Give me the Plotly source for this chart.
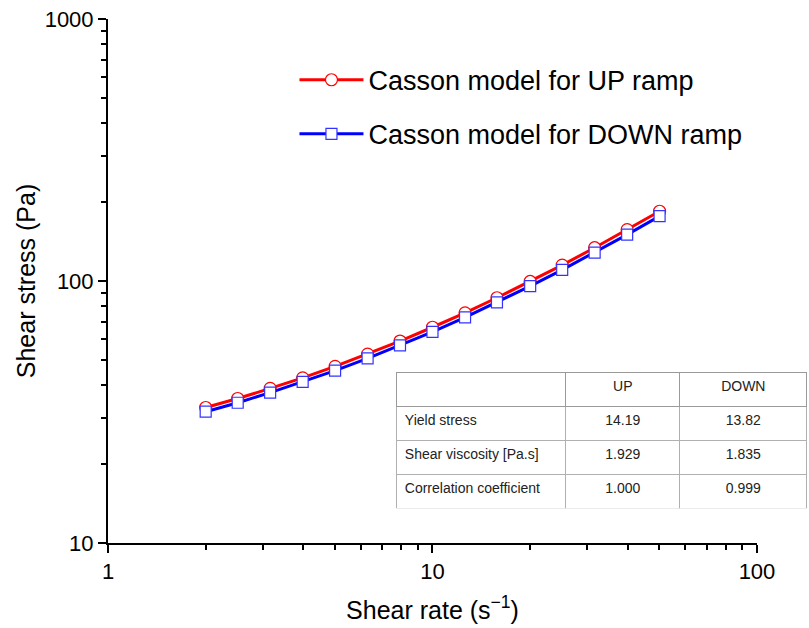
import plotly.graph_objects as go

shear_rate = [2.0, 2.51, 3.16, 3.98, 5.01, 6.31, 7.94, 10.0, 12.6, 15.8, 20.0, 25.1, 31.6, 39.8, 50.1]
stress_up = [32.9, 35.6, 38.9, 42.7, 47.2, 52.6, 59.0, 66.6, 75.6, 86.3, 99.6, 115.0, 134.0, 157.0, 184.6]
stress_down = [31.7, 34.3, 37.5, 41.2, 45.5, 50.7, 56.8, 64.0, 72.7, 82.9, 95.6, 110.3, 128.4, 150.4, 176.8]

x_tickvals = [1, 10, 100]
x_ticktext = ["1", "10", "100"]
x_minor = [2, 3, 4, 5, 6, 7, 8, 9, 20, 30, 40, 50, 60, 70, 80, 90]
y_tickvals = [10, 100, 1000]
y_ticktext = ["10", "100", "1000"]
y_minor = [20, 30, 40, 50, 60, 70, 80, 90, 200, 300, 400, 500, 600, 700, 800, 900]

table_header = ["", "UP", "DOWN"]
table_rows = ["Yield stress", "Shear viscosity [Pa.s]", "Correlation coefficient"]
table_up = ["14.19", "1.929", "1.000"]
table_down = ["13.82", "1.835", "0.999"]

FONT = "Arial, Liberation Sans, sans-serif"

fig = go.Figure()
fig.add_trace(go.Scatter(
    x=shear_rate, y=stress_up, mode="lines+markers",
    name="Casson model for UP ramp", legendgroup="a",
    line=dict(color="#ff0000", width=3),
    marker=dict(symbol="circle", size=12, color="white", line=dict(color="#ff0000", width=1.2)),
))
fig.add_trace(go.Scatter(
    x=shear_rate, y=stress_down, mode="lines+markers",
    name="Casson model for DOWN ramp", legendgroup="b",
    line=dict(color="#0000ff", width=3),
    marker=dict(symbol="square", size=11, color="white", line=dict(color="#3333ff", width=1.2)),
))

fig.add_trace(go.Table(
    domain=dict(x=[0.412, 0.997], y=[0.065, 0.326]),
    columnwidth=[169, 114, 127],
    header=dict(values=table_header, height=34, align=["left", "center", "center"],
                font=dict(family=FONT, size=14, color="#222"),
                fill_color="white", line=dict(color="#9a9a9a", width=1)),
    cells=dict(values=[table_rows, table_up, table_down], height=34,
               align=["left", "center", "center"],
               font=dict(family=FONT, size=14, color="#222"),
               fill_color="white", line=dict(color="#b0b0b0", width=1)),
))

def axis_common(minor_vals):
    return dict(
        type="log", showgrid=False, zeroline=False, showline=True, linecolor="black", linewidth=2,
        ticks="outside", ticklen=8, tickwidth=2, tickcolor="black",
        tickfont=dict(family=FONT, size=22, color="black"),
        minor=dict(ticks="outside", ticklen=5, tickwidth=1.5, tickcolor="black",
                   showgrid=False, tickvals=minor_vals),
        mirror=False, automargin=False,
    )

fig.update_layout(
    width=809, height=628,
    margin=dict(l=108, r=0, t=19, b=85, autoexpand=False),
    paper_bgcolor="white", plot_bgcolor="white",
    font=dict(family=FONT, color="black"),
    xaxis=dict(axis_common(x_minor), range=[0, 2], domain=[0, 0.9258],
               tickvals=x_tickvals, ticktext=x_ticktext,
               title=dict(text="Shear rate (s<sup>−1</sup>)", font=dict(family=FONT, size=25), standoff=18)),
    yaxis=dict(axis_common(y_minor), range=[1, 3],
               tickvals=y_tickvals, ticktext=y_ticktext,
               title=dict(text="Shear stress (Pa)", font=dict(family=FONT, size=25), standoff=2)),
    legend=dict(x=0.266, y=0.93, xanchor="left", yanchor="top",
                font=dict(family=FONT, size=27, color="black"),
                bgcolor="rgba(0,0,0,0)", itemwidth=64,
                traceorder="grouped", tracegroupgap=16),
    showlegend=True,
)

fig.write_html("out.html")
